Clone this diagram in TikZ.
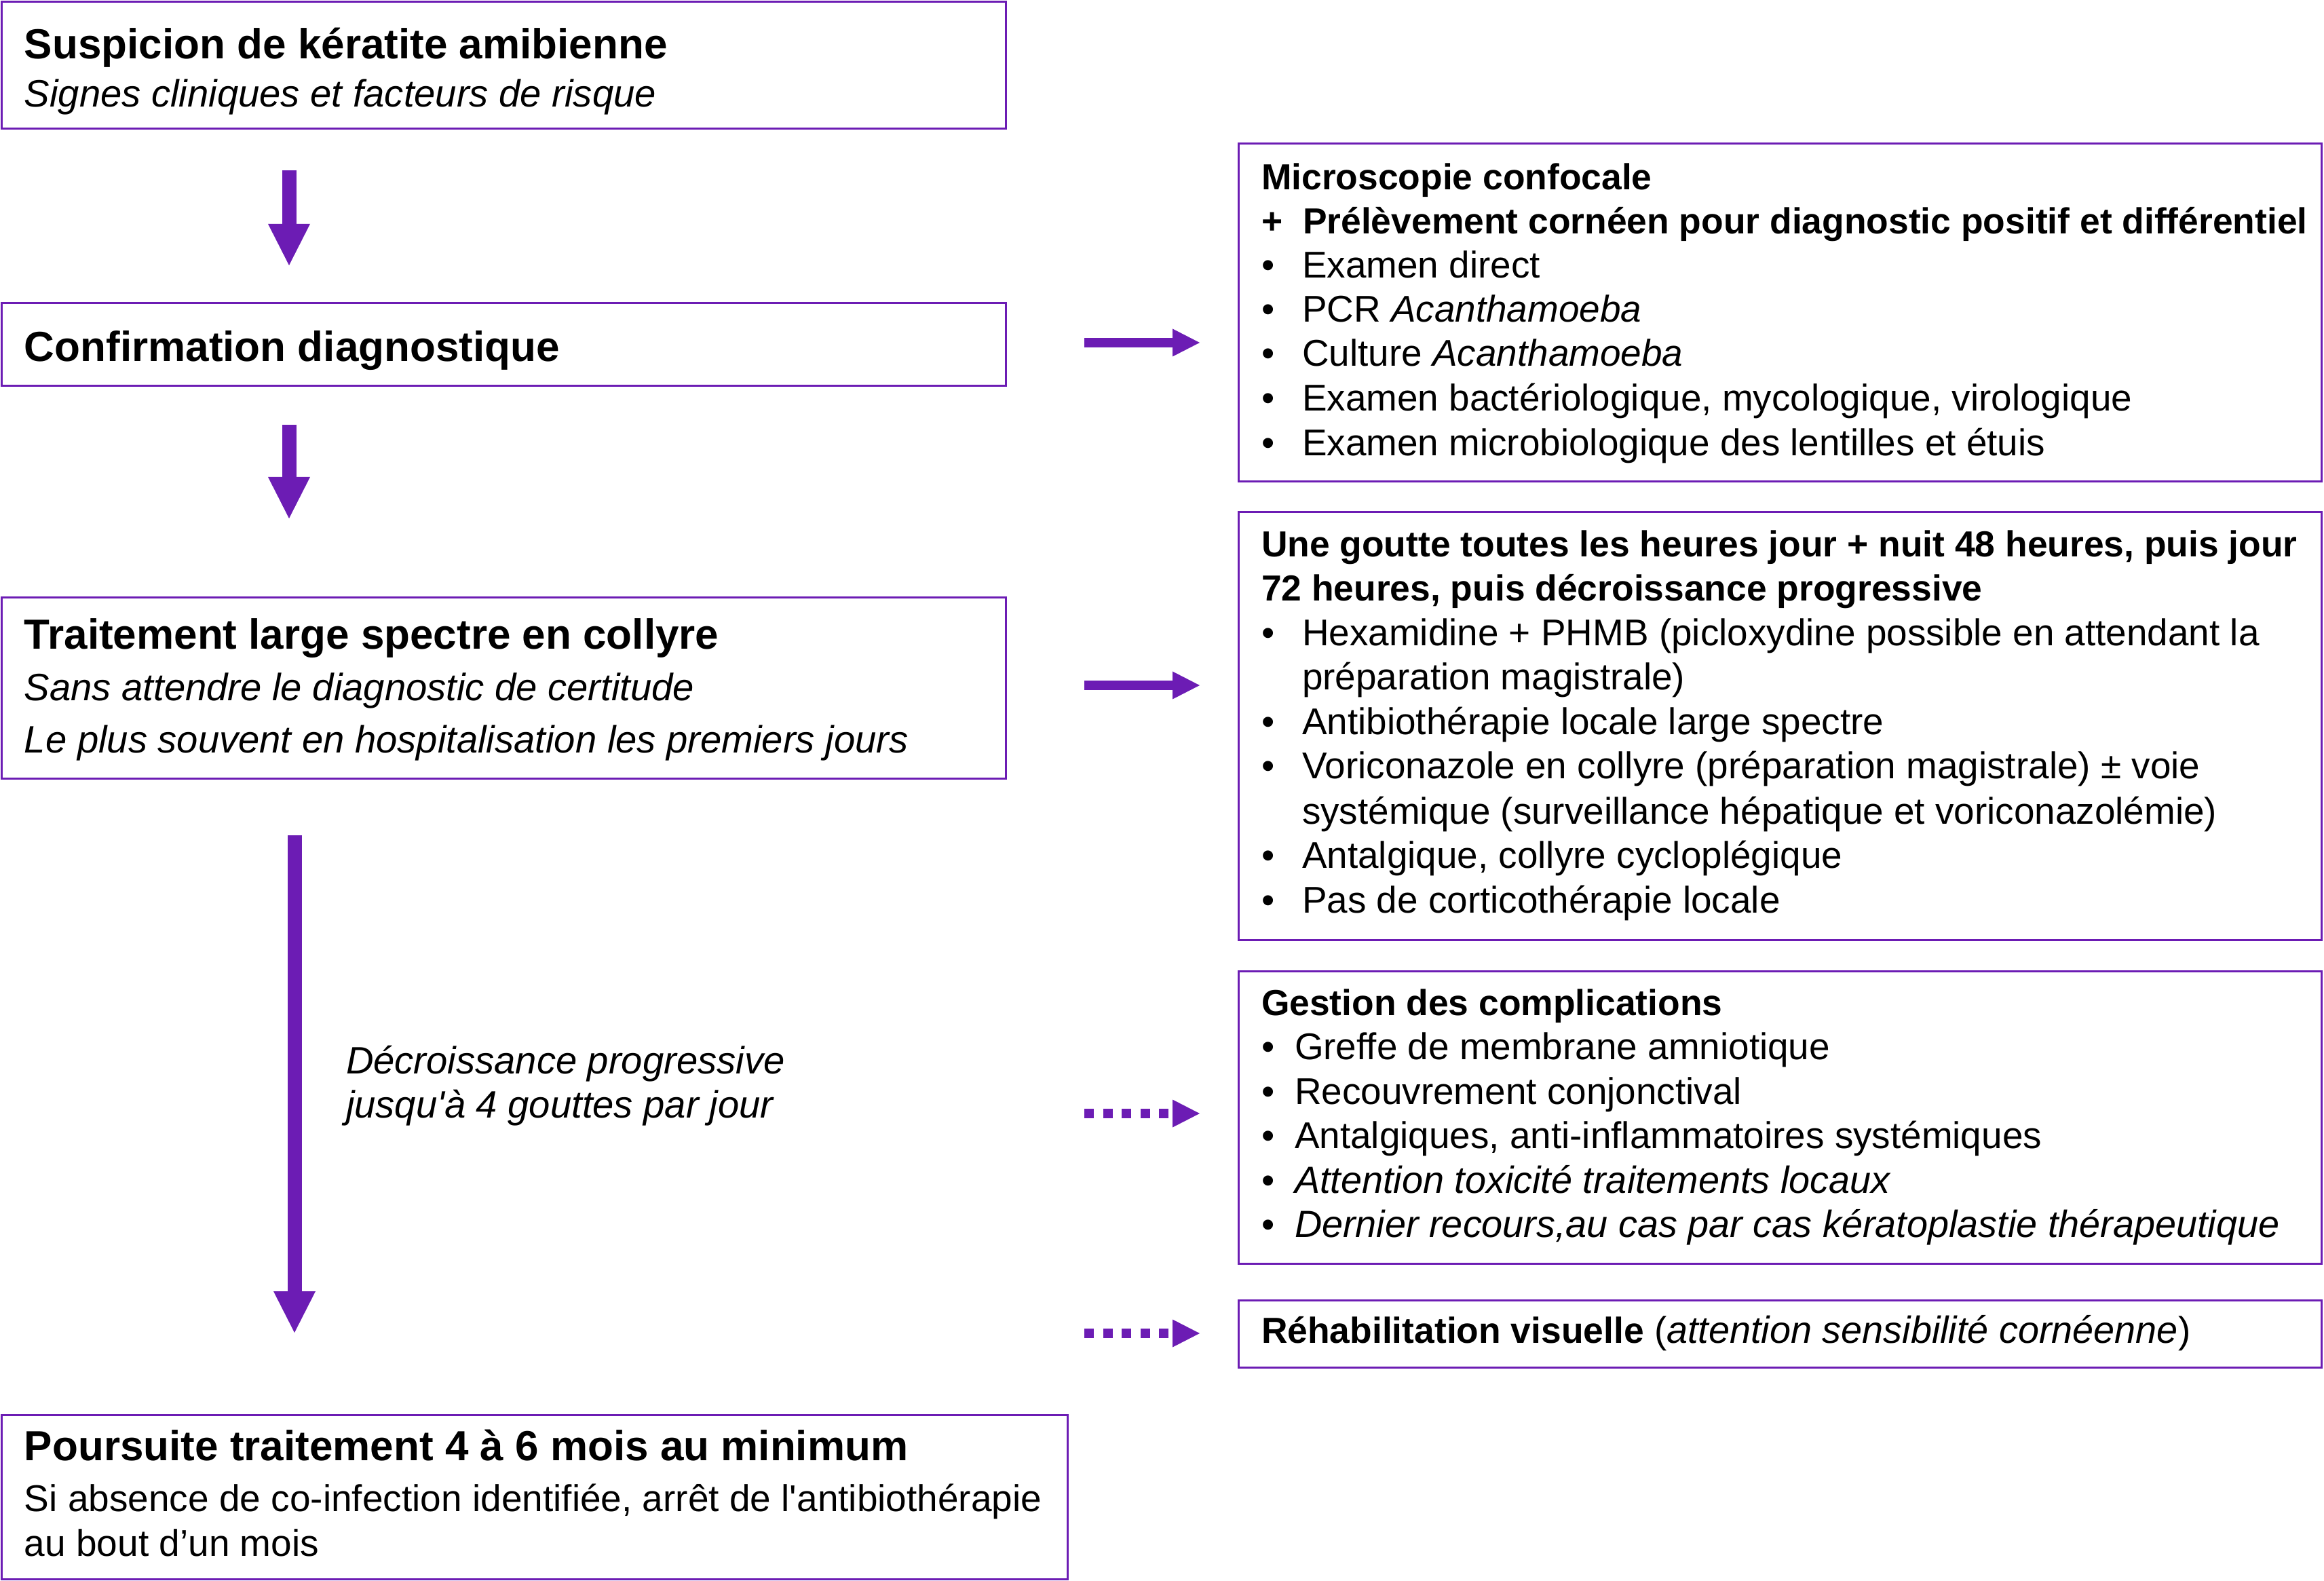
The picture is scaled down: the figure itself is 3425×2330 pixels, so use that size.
\documentclass[tikz,border=0pt]{standalone}
\usepackage{fontspec}
\setmainfont{Liberation Sans}
\usetikzlibrary{arrows.meta}
\definecolor{pur}{RGB}{108,28,180}
\newcommand{\mybox}[5]{\node[box,anchor=north west,minimum width={(#4-#2)*0.25pt},minimum height={(#5-#3)*0.25pt}] (#1) at (#2,#3) {};}
\begin{document}
\begin{tikzpicture}[x=0.25pt,y=-0.25pt,
  box/.style={draw=pur,line width=0.75pt,inner sep=0pt,outer sep=0pt,fill=none},
  txt/.style={anchor=base west,inner sep=0pt,outer sep=0pt,text=black},
  ttl/.style={txt,font=\fontsize{15.5pt}{18pt}\selectfont\bfseries},
  sub/.style={txt,font=\fontsize{14.05pt}{17pt}\selectfont\itshape},
  body/.style={txt,font=\fontsize{13.75pt}{16.5pt}\selectfont},
  rb/.style={txt,font=\fontsize{13.35pt}{16pt}\selectfont\bfseries},
  rn/.style={txt,font=\fontsize{13.72pt}{16pt}\selectfont},
  ri/.style={txt,font=\fontsize{13.95pt}{16pt}\selectfont\itshape},
  varrow/.style={draw=pur,line width=5.25pt,-{Triangle[length=15.25pt,width=15.5pt,line width=0pt]}},
  harrow/.style={draw=pur,line width=3.5pt,-{Triangle[length=10pt,width=10.25pt,line width=0pt]}},
  darrow/.style={harrow,dash pattern=on 3.5pt off 3.375pt}
]
\useasboundingbox (0,0) rectangle (3425,2330);

% left boxes
\mybox{b1}{2.5}{2.5}{1482}{190}
\mybox{b2}{2.5}{447}{1482}{569}
\mybox{b3}{2.5}{881}{1482}{1147}
\mybox{b4}{2.5}{2085}{1573}{2327}
% right boxes
\mybox{r1}{1825}{212}{3421}{710}
\mybox{r2}{1825}{755}{3421}{1385}
\mybox{r3}{1825}{1431}{3421}{1862}
\mybox{r4}{1825}{1916}{3421}{2015}

% left texts
\node[ttl] (t1a) at (36,87) {Suspicion de kératite amibienne};
\node[sub] (t1b) at (36,158) {Signes cliniques et facteurs de risque};
\node[ttl] (t2a) at (36,533) {Confirmation diagnostique};
\node[ttl] (t3a) at (36,957) {Traitement large spectre en collyre};
\node[sub] (t3b) at (36,1033) {Sans attendre le diagnostic de certitude};
\node[sub] (t3c) at (36,1109) {Le plus souvent en hospitalisation les premiers jours};
\node[ttl] (t4a) at (36,2152) {Poursuite traitement 4 à 6 mois au minimum};
\node[body] (t4b) at (36,2227) {Si absence de co-infection identifiée, arrêt de l\textquotesingle antibiothérapie};
\node[body] (t4c) at (36,2293) {au bout d’un mois};
\node[sub] (lab1) at (510,1582) {Décroissance progressive};
\node[sub] (lab2) at (510,1647) {jusqu\textquotesingle à 4 gouttes par jour};

% right box 1
\node[rb] (r1a) at (1859,280) {Microscopie confocale};
\node[rb] (r1p) at (1859,345) {+};
\node[rb] (r1b) at (1920,345) {Prélèvement cornéen pour diagnostic positif et différentiel};
\node[rn] (r1u1) at (1859,410) {•};
\node[rn] (r1c) at (1919,410) {Examen direct};
\node[rn] (r1u2) at (1859,475) {•};
\node[rn] (r1d) at (1919,475) {PCR \textit{Acanthamoeba}};
\node[rn] (r1u3) at (1859,540) {•};
\node[rn] (r1e) at (1919,540) {Culture \textit{Acanthamoeba}};
\node[rn] (r1u4) at (1859,606) {•};
\node[rn] (r1f) at (1919,606) {Examen bactériologique, mycologique, virologique};
\node[rn] (r1u5) at (1859,672) {•};
\node[rn] (r1g) at (1919,672) {Examen microbiologique des lentilles et étuis};

% right box 2
\node[rb] (r2a) at (1859,821) {Une goutte toutes les heures jour + nuit 48 heures, puis jour};
\node[rb] (r2b) at (1859,886) {72 heures, puis décroissance progressive};
\node[rn] (r2u1) at (1859,952) {•};
\node[rn] (r2c) at (1919,952) {Hexamidine + PHMB (picloxydine possible en attendant la};
\node[rn] (r2d) at (1919,1017) {préparation magistrale)};
\node[rn] (r2u2) at (1859,1083) {•};
\node[rn] (r2e) at (1919,1083) {Antibiothérapie locale large spectre};
\node[rn] (r2u3) at (1859,1148) {•};
\node[rn] (r2f) at (1919,1148) {Voriconazole en collyre (préparation magistrale) ± voie};
\node[rn] (r2g) at (1919,1214) {systémique (surveillance hépatique et voriconazolémie)};
\node[rn] (r2u4) at (1859,1279) {•};
\node[rn] (r2h) at (1919,1279) {Antalgique, collyre cycloplégique};
\node[rn] (r2u5) at (1859,1345) {•};
\node[rn] (r2i) at (1919,1345) {Pas de corticothérapie locale};

% right box 3
\node[rb] (r3a) at (1859,1496) {Gestion des complications};
\node[rn] (r3u1) at (1859,1561) {•};
\node[rn] (r3b) at (1908,1561) {Greffe de membrane amniotique};
\node[rn] (r3u2) at (1859,1627) {•};
\node[rn] (r3c) at (1908,1627) {Recouvrement conjonctival};
\node[rn] (r3u3) at (1859,1692) {•};
\node[rn] (r3d) at (1908,1692) {Antalgiques, anti-inflammatoires systémiques};
\node[rn] (r3u4) at (1859,1758) {•};
\node[ri] (r3e) at (1908,1758) {Attention toxicité traitements locaux};
\node[rn] (r3u5) at (1859,1823) {•};
\node[ri] (r3f) at (1908,1823) {Dernier recours,au cas par cas kératoplastie thérapeutique};

% right box 4
\node[rn] (r4a) at (1859,1979) {\textbf{\fontsize{13.35pt}{16pt}\selectfont Réhabilitation visuelle} (\textit{\fontsize{13.95pt}{16pt}\selectfont attention sensibilité cornéenne})};

% connectors
\coordinate (vx) at (426,0);
\coordinate (vy) at (434,0);
\draw[varrow,shorten <=15.25pt,shorten >=14pt] (b1.south -| vx) -- (b2.north -| vx);
\draw[varrow,shorten <=14.25pt,shorten >=29.25pt] (b2.south -| vx) -- (b3.north -| vx);
\draw[varrow,shorten <=21pt,shorten >=30.25pt] (b3.south -| vy) -- (b4.north -| vy);

\coordinate (h1) at (0,505);
\coordinate (h2) at (0,1010);
\draw[harrow,shorten <=29pt,shorten >=14.25pt] (b2.east |- h1) -- (r1.west |- h1);
\draw[harrow,shorten <=29pt,shorten >=14.25pt] (b3.east |- h2) -- (r2.west |- h2);

\coordinate (d1) at (1598,1641);
\coordinate (d2) at (1598,1965);
\draw[darrow,shorten >=14.25pt] (d1) -- (r3.west |- d1);
\draw[darrow,shorten >=14.25pt] (d2) -- (r4.west |- d2);
\end{tikzpicture}
\end{document}
